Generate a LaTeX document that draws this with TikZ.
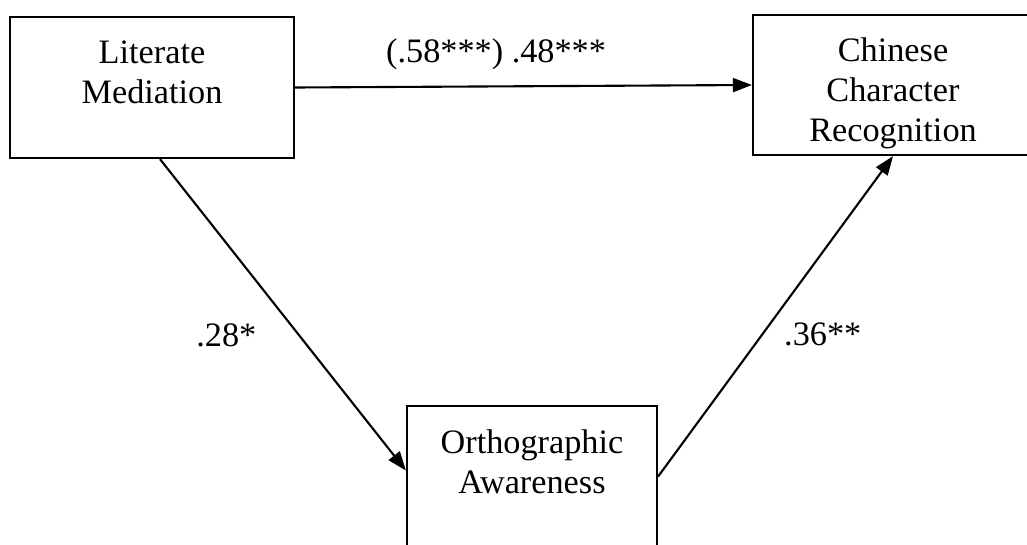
\documentclass[tikz,border=0pt]{standalone}
\usepackage{fontspec}
\setmainfont{Liberation Serif}
\usetikzlibrary{arrows.meta,positioning}

\begin{document}
\begin{tikzpicture}[x=0.02cm,y=-0.02cm,
    box/.style={draw,line width=1.3pt,inner sep=0pt},
    txt/.style={align=center,inner sep=0pt,anchor=north,font=\fontsize{19.5}{22.8}\selectfont},
    path/.style={line width=1.2pt,-{Triangle[length=0.38cm,width=0.28cm]}},
    coef/.style={inner sep=0pt,font=\fontsize{19.5}{22.8}\selectfont}]
    \useasboundingbox (0,0) rectangle (1027,544);
    \node[box,minimum width=5.68cm,minimum height=2.82cm] (lit) at (152,87.5) {};
    \node[box,minimum width=5.6cm,minimum height=2.8cm] (chn) at (893,85) {};
    \node[box,minimum width=5cm,minimum height=2.82cm] (ort) at (532,476.5) {};
    \node[txt] (littxt) at (152,40) {Literate\\Mediation};
    \node[txt] (chntxt) at (893,37) {Chinese\\Character\\Recognition};
    \node[txt] (orttxt) at (532,429) {Orthographic\\Awareness};
    \draw[path] (lit.east) to node[pos=0.44,above=0.32cm,coef] (c1) {(.58***) .48***} (chn.west);
    \draw[path] ([xshift=0.16cm]lit.south) to node[pos=0.567,left=0.84cm,coef] (c2) {.28*} ([yshift=0.12cm]ort.west);
    \draw[path] (ort.east) to node[pos=0.443,right=0.42cm,coef] (c3) {.36**} (chn.south);
\end{tikzpicture}
\end{document}
